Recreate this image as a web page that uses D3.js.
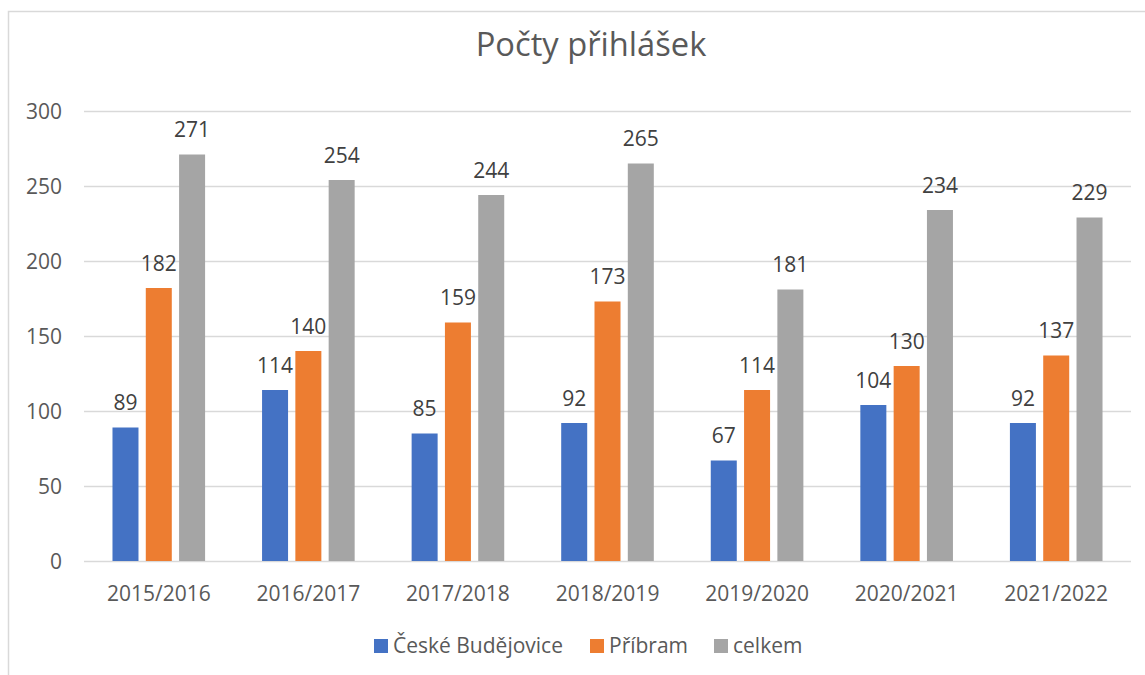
<!DOCTYPE html>
<html><head><meta charset="utf-8">
<script src="https://cdn.jsdelivr.net/npm/d3@7"></script>
<style>body{margin:0;background:#fff}svg{display:block}text{font-family:"Open Sans","Noto Sans",sans-serif}</style>
</head><body>
<svg id="c" width="1145" height="675"></svg>
<script>
const categories = ["2015/2016","2016/2017","2017/2018","2018/2019","2019/2020","2020/2021","2021/2022"];
const seriesNames = ["České Budějovice","Příbram","celkem"];
const budejovice = [89,114,85,92,67,104,92];
const pribram = [182,140,159,173,114,130,137];
const celkem = [271,254,244,265,181,234,229];
const yTicks = [0,50,100,150,200,250,300];
const colors = ["#4472C4","#ED7D31","#A5A5A5"];
const seriesValues = [budejovice, pribram, celkem];

(function(){
const svg = d3.select("#c");
const fs = 21;
// frame
svg.append("rect").attr("x",8.5).attr("y",11.5).attr("width",1200).attr("height",700)
  .attr("fill","none").attr("stroke","#D9D9D9").attr("stroke-width",1.5);

const pl=84, pr=1131, pt=111, pb=561;
const x = d3.scaleBand().domain(categories).range([pl,pr]).paddingInner(0).paddingOuter(0);
const y = d3.scaleLinear().domain([0,300]).range([pb,pt]);
const barW = 26, step = 33.3;

svg.append("text").attr("x",591).attr("y",56).attr("text-anchor","middle")
  .attr("font-size",32.7).attr("fill","#595959").text("Počty přihlášek");

// grid
svg.append("g").selectAll("line").data(yTicks).join("line")
  .attr("x1",pl).attr("x2",pr).attr("y1",d=>Math.round(y(d))+0.5).attr("y2",d=>Math.round(y(d))+0.5)
  .attr("stroke","#D9D9D9").attr("stroke-width",1.5);
// y labels
const yAxis = d3.axisLeft(y).tickValues(yTicks).tickSize(0).tickPadding(0);
const ya = svg.append("g").attr("transform",`translate(62,0)`).call(yAxis);
ya.select(".domain").remove();
ya.selectAll("text").attr("font-size",fs).attr("fill","#595959").attr("font-family","'Open Sans',sans-serif").attr("dy","0.35em");

// x labels
const xAxis = d3.axisBottom(x).tickSize(0).tickPadding(0);
const xa = svg.append("g").attr("transform",`translate(0,601)`).call(xAxis);
xa.select(".domain").remove();
xa.selectAll("text").attr("font-size",fs).attr("fill","#595959").attr("font-family","'Open Sans',sans-serif").attr("dy",0);

// bars
seriesValues.forEach((vals,si)=>{
  const g = svg.append("g");
  g.selectAll("rect").data(vals).join("rect")
    .attr("x",(d,i)=>x(categories[i])+x.bandwidth()/2 + (si-1)*step - barW/2)
    .attr("y",d=>y(d)).attr("width",barW).attr("height",d=>pb-y(d))
    .attr("fill",colors[si]);
  g.selectAll("text").data(vals).join("text")
    .attr("x",(d,i)=>x(categories[i])+x.bandwidth()/2 + (si-1)*step)
    .attr("y",d=>y(d)-17.5).attr("text-anchor","middle")
    .attr("font-size",fs).attr("fill","#404040").text(d=>d);
});

// legend
const legX = [374,590,714];
seriesNames.forEach((n,i)=>{
  svg.append("rect").attr("x",legX[i]).attr("y",639).attr("width",14).attr("height",14).attr("fill",colors[i]);
  svg.append("text").attr("x",legX[i]+19).attr("y",653).attr("font-size",fs).attr("fill","#595959").text(n);
});
})();
</script>
</body></html>
